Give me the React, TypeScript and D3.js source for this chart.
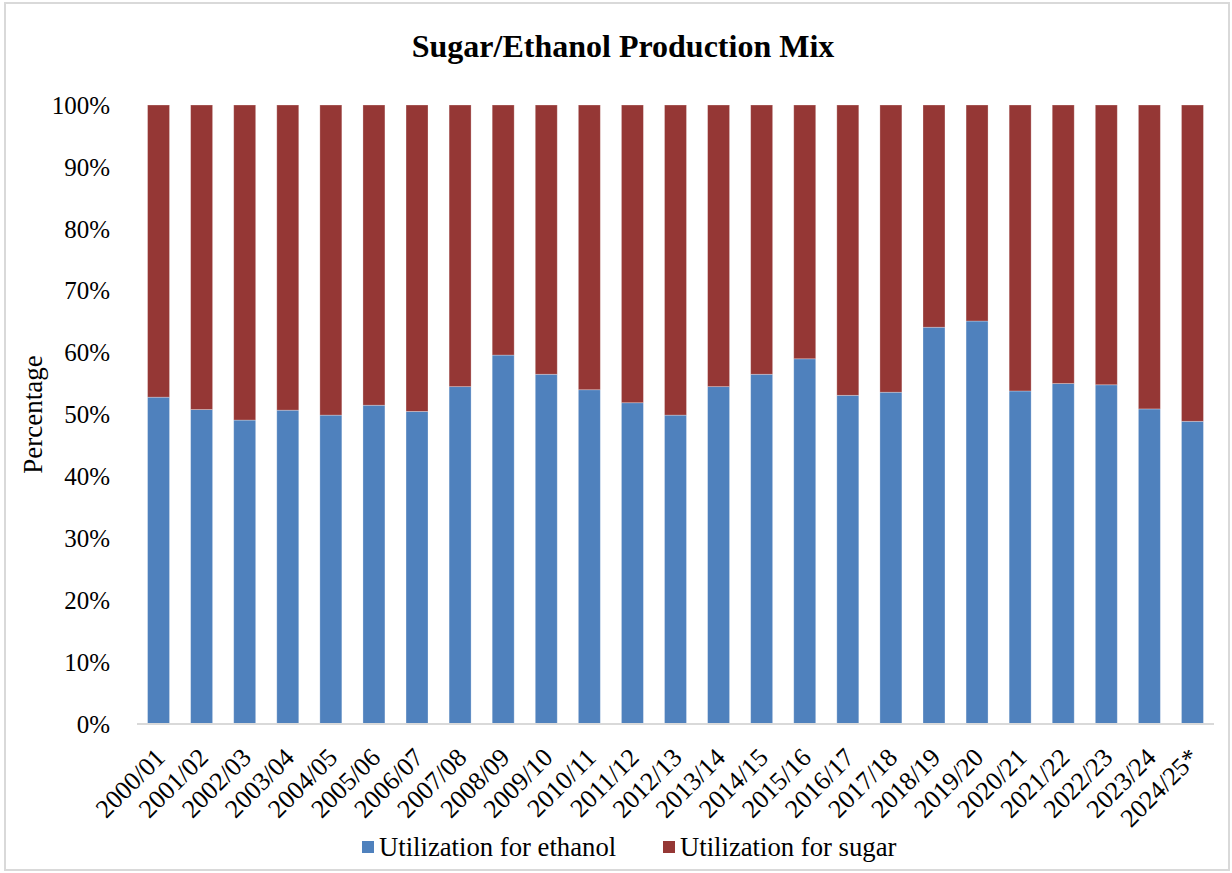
import { useEffect, useRef } from 'react';
import * as d3 from 'd3';

// Marketing years (x categories)
const YEARS = [
  '2000/01', '2001/02', '2002/03', '2003/04', '2004/05', '2005/06', '2006/07',
  '2007/08', '2008/09', '2009/10', '2010/11', '2011/12', '2012/13', '2013/14',
  '2014/15', '2015/16', '2016/17', '2017/18', '2018/19', '2019/20', '2020/21',
  '2021/22', '2022/23', '2023/24', '2024/25*',
];

// Share of cane used for ethanol (%)
const ETHANOL = [
  52.8, 50.8, 49.1, 50.7, 49.9, 51.5, 50.5, 54.5, 59.6, 56.5, 54.0, 51.9, 49.9,
  54.5, 56.5, 59.0, 53.1, 53.6, 64.1, 65.1, 53.8, 55.0, 54.8, 50.9, 48.9,
];

// Share of cane used for sugar (%)
const SUGAR = [
  47.2, 49.2, 50.9, 49.3, 50.1, 48.5, 49.5, 45.5, 40.4, 43.5, 46.0, 48.1, 50.1,
  45.5, 43.5, 41.0, 46.9, 46.4, 35.9, 34.9, 46.2, 45.0, 45.2, 49.1, 51.1,
];

const Y_TICKS = [0, 10, 20, 30, 40, 50, 60, 70, 80, 90, 100];

const SERIES = [
  { key: 'ethanol', label: 'Utilization for ethanol', color: '#4f81bd' },
  { key: 'sugar', label: 'Utilization for sugar', color: '#953735' },
];

const W = 1232;
const H = 873;
const FONT = "'Liberation Serif', Tinos, 'Times New Roman', Times, serif";

export default function App() {
  const svgRef = useRef<SVGSVGElement>(null);

  useEffect(() => {
    if (!svgRef.current) return;
    const svg = d3.select(svgRef.current);
    svg.selectAll('*').remove();

    const plot = { left: 137, right: 1214, top: 105, bottom: 724 };

    const x = d3.scaleBand<string>()
      .domain(YEARS)
      .range([plot.left, plot.right])
      .paddingInner(0.49)
      .paddingOuter(0.245);

    const y = d3.scaleLinear().domain([0, 100]).range([plot.bottom, plot.top]);

    // chart border
    svg.append('rect')
      .attr('x', 5).attr('y', 3)
      .attr('width', W - 8).attr('height', H - 6)
      .attr('fill', '#fff')
      .attr('stroke', '#d9d9d9')
      .attr('stroke-width', 2);

    // title
    svg.append('text')
      .attr('x', 623).attr('y', 57)
      .attr('text-anchor', 'middle')
      .style('font-family', FONT)
      .attr('font-size', 32)
      .attr('font-weight', 700)
      .text('Sugar/Ethanol Production Mix');

    // stacked bars
    const rows = YEARS.map((yr, i) => ({ yr, ethanol: ETHANOL[i], sugar: SUGAR[i] }));
    const stack = d3.stack<any>().keys(SERIES.map(s => s.key));
    const layers = stack(rows);

    layers.forEach((layer, li) => {
      svg.append('g')
        .selectAll('rect')
        .data(layer)
        .join('rect')
        .attr('x', d => x(d.data.yr)!)
        .attr('y', d => y(d[1]))
        .attr('width', x.bandwidth())
        .attr('height', d => y(d[0]) - y(d[1]))
        .attr('fill', SERIES[li].color)
        .attr('stroke', '#ffffff')
        .attr('stroke-opacity', 0.35)
        .attr('stroke-width', 0.8);
    });

    // x axis baseline
    svg.append('line')
      .attr('x1', plot.left).attr('x2', plot.right)
      .attr('y1', plot.bottom).attr('y2', plot.bottom)
      .attr('stroke', '#d9d9d9')
      .attr('stroke-width', 2);

    // y tick labels
    svg.append('g')
      .selectAll('text')
      .data(Y_TICKS)
      .join('text')
      .attr('x', 110)
      .attr('y', d => y(d))
      .attr('dy', '0.35em')
      .attr('text-anchor', 'end')
      .style('font-family', FONT)
      .attr('font-size', 25)
      .text(d => `${d}%`);

    // y axis title
    svg.append('text')
      .attr('transform', `translate(42,${(plot.top + plot.bottom) / 2}) rotate(-90)`)
      .attr('text-anchor', 'middle')
      .style('font-family', FONT)
      .attr('font-size', 27)
      .text('Percentage');

    // x tick labels, rotated
    svg.append('g')
      .selectAll('text')
      .data(YEARS)
      .join('text')
      .attr('transform', d => `translate(${x(d)! + x.bandwidth() / 2 + 8},${plot.bottom + 35}) rotate(-45)`)
      .attr('text-anchor', 'end')
      .style('font-family', FONT)
      .attr('font-size', 26)
      .text(d => d);

    // legend
    const legendX = [362, 663];
    SERIES.forEach((s, i) => {
      svg.append('rect')
        .attr('x', legendX[i]).attr('y', 841)
        .attr('width', 12).attr('height', 12)
        .attr('fill', s.color);
      svg.append('text')
        .attr('x', legendX[i] + 17).attr('y', 856)
        .style('font-family', FONT)
        .attr('font-size', 26.7)
        .text(s.label);
    });
  }, []);

  return (
    <div style={{ position: 'absolute', left: 0, top: 0 }}>
      <svg ref={svgRef} width={W} height={H} style={{ display: 'block' }} />
    </div>
  );
}
